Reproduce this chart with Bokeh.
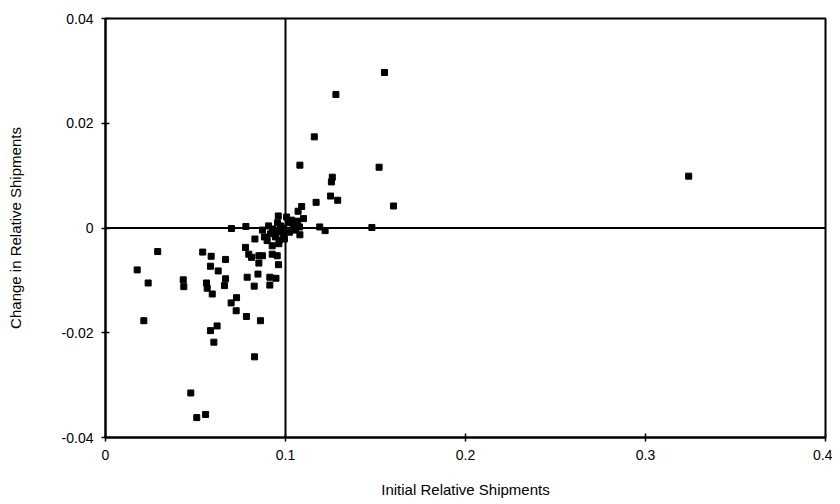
from bokeh.plotting import figure
from bokeh.models import Span, FixedTicker
from bokeh.embed import file_html
from bokeh.resources import INLINE

# Initial relative shipments (x) and change in relative shipments (y)
x_vals = [
    0.155, 0.128, 0.116, 0.108, 0.152, 0.126, 0.1255, 0.125, 0.129, 0.117,
    0.109, 0.107, 0.110, 0.096, 0.119, 0.122, 0.108, 0.160, 0.148, 0.324,
    0.070, 0.078, 0.029, 0.0176, 0.0237, 0.0213, 0.054, 0.0587, 0.0583, 0.0626,
    0.0432, 0.0435, 0.0561, 0.0565, 0.0593, 0.062, 0.0583, 0.0602, 0.0474, 0.0556,
    0.0507, 0.0667, 0.083, 0.0778, 0.0796, 0.0811, 0.0852, 0.0872, 0.0926, 0.0954,
    0.0852, 0.0961, 0.0787, 0.0847, 0.0913, 0.0947, 0.0826, 0.0913, 0.0667, 0.0661,
    0.0728, 0.0698, 0.0726, 0.0783, 0.0861, 0.0828, 0.0898, 0.0926, 0.0963, 0.0906,
    0.0928, 0.095, 0.0972, 0.0989, 0.1017, 0.1033, 0.1044, 0.1056, 0.1022, 0.0994,
    0.0967, 0.0944, 0.0917, 0.0883, 0.0872, 0.1067, 0.1078, 0.1006, 0.0989, 0.0956,
]
y_vals = [
    0.0297, 0.0255, 0.0174, 0.0120, 0.0116, 0.0097, 0.0088, 0.0061, 0.0053, 0.0049,
    0.0041, 0.0032, 0.0018, 0.0023, 0.0002, -0.0005, -0.0013, 0.0042, 0.0001, 0.0099,
    -0.0001, 0.0003, -0.0045, -0.0080, -0.0105, -0.0177, -0.0046, -0.0054, -0.0073, -0.0082,
    -0.0099, -0.0112, -0.0105, -0.0115, -0.0126, -0.0187, -0.0196, -0.0218, -0.0315, -0.0356,
    -0.0362, -0.0060, -0.0021, -0.0037, -0.0050, -0.0056, -0.0053, -0.0053, -0.0050, -0.0053,
    -0.0067, -0.0070, -0.0094, -0.0088, -0.0094, -0.0096, -0.0111, -0.0109, -0.0097, -0.0110,
    -0.0133, -0.0143, -0.0158, -0.0169, -0.0177, -0.0246, -0.0024, -0.0034, -0.0030, 0.0004,
    -0.0002, -0.0008, 0.0004, -0.0011, 0.0010, 0.0015, 0.0006, -0.0004, -0.0008, -0.0021,
    -0.0023, -0.0017, -0.0011, -0.0017, -0.0004, 0.0013, 0.0002, 0.0021, 0.0000, 0.0010,
]

x_ticks = [0, 0.1, 0.2, 0.3, 0.4]
x_tick_labels = ["0", "0.1", "0.2", "0.3", "0.4"]
y_ticks = [-0.04, -0.02, 0, 0.02, 0.04]
y_tick_labels = ["-0.04", "-0.02", "0", "0.02", "0.04"]

FONT = "Liberation Sans"

p = figure(
    width=832, height=496,
    x_range=(0, 0.4), y_range=(-0.04, 0.04),
    output_backend="svg", toolbar_location=None,
    min_border_left=105, min_border_right=7, min_border_top=18, min_border_bottom=59,
)
p.frame_width = 720
p.frame_height = 419

p.xgrid.visible = False
p.ygrid.visible = False
p.outline_line_color = "black"
p.outline_line_width = 2
p.background_fill_color = "white"
p.border_fill_color = "white"

p.xaxis.ticker = FixedTicker(ticks=x_ticks)
p.yaxis.ticker = FixedTicker(ticks=y_ticks)
p.xaxis.major_label_overrides = dict(zip(x_ticks, x_tick_labels))
p.yaxis.major_label_overrides = dict(zip(y_ticks, y_tick_labels))

for ax in (p.xaxis, p.yaxis):
    ax.axis_line_width = 2
    ax.axis_line_color = "black"
    ax.major_tick_line_color = "black"
    ax.major_tick_line_width = 1.5
    ax.major_tick_in = 4
    ax.major_tick_out = 4
    ax.minor_tick_line_color = None
    ax.major_label_text_font = FONT
    ax.major_label_text_font_size = "14px"
    ax.major_label_text_color = "black"
    ax.axis_label_text_font = FONT
    ax.axis_label_text_font_size = "15px"
    ax.axis_label_text_font_style = "normal"
    ax.axis_label_text_color = "black"

p.xaxis.axis_label = "Initial Relative Shipments"
p.yaxis.axis_label = "Change in Relative Shipments"
p.xaxis.major_label_standoff = 8
p.yaxis.major_label_standoff = 8
p.xaxis.axis_label_standoff = 18
p.yaxis.axis_label_standoff = 35

p.add_layout(Span(location=0, dimension="width", line_color="black", line_width=2))
p.add_layout(Span(location=0.1, dimension="height", line_color="black", line_width=2))

p.scatter(x_vals, y_vals, marker="square", size=6, fill_color="black", line_color="black")

open("out.html", "w").write(file_html(p, INLINE))
